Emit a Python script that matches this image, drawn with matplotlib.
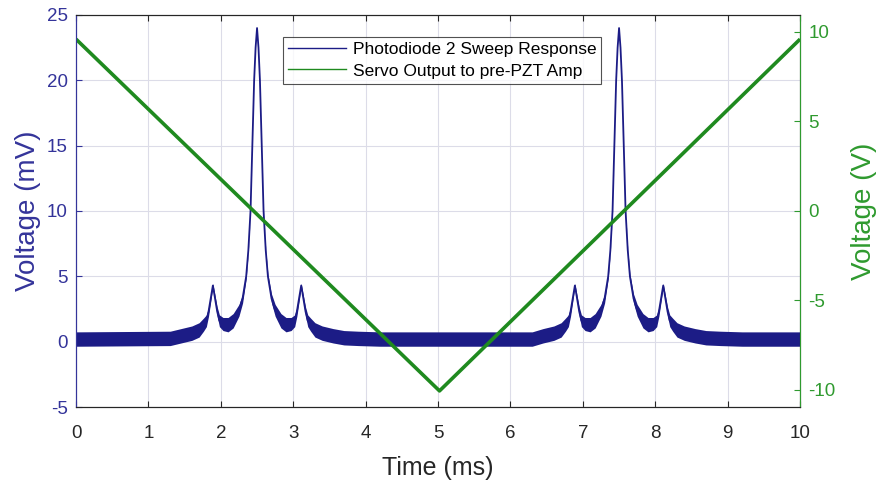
import matplotlib
matplotlib.use('Agg')
import matplotlib.pyplot as plt
from matplotlib.lines import Line2D

plt.rcParams['font.family'] = ['Liberation Sans', 'DejaVu Sans']
plt.rcParams['axes.unicode_minus'] = False

# photodiode trace (mV): centre of the noisy trace and half-width of the noise band
pd_t = [0.00, 1.30, 1.45, 1.60, 1.70, 1.76, 1.80, 1.83, 1.86, 1.89, 1.92, 1.95, 1.98,
        2.03, 2.10, 2.17, 2.25, 2.30, 2.35, 2.38, 2.41, 2.435, 2.46, 2.48, 2.50,
        2.52, 2.54, 2.565, 2.59, 2.62, 2.65, 2.70, 2.75, 2.83, 2.90, 2.97, 3.02, 3.05,
        3.08, 3.11, 3.14, 3.17, 3.20, 3.24, 3.30, 3.40, 3.55, 3.70, 3.90, 4.20,
        6.30, 6.45, 6.60, 6.70, 6.76, 6.80, 6.83, 6.86, 6.89, 6.92, 6.95, 6.98,
        7.03, 7.10, 7.17, 7.25, 7.30, 7.35, 7.38, 7.41, 7.435, 7.46, 7.48, 7.50,
        7.52, 7.54, 7.565, 7.59, 7.62, 7.65, 7.70, 7.75, 7.83, 7.90, 7.97, 8.02, 8.05,
        8.08, 8.11, 8.14, 8.17, 8.20, 8.24, 8.30, 8.40, 8.55, 8.70, 8.90, 9.20, 10.00]
pd_mid = [0.20, 0.25, 0.45, 0.65, 0.90, 1.30, 1.60, 2.30, 3.30, 4.30, 3.30, 2.30, 1.60,
          1.35, 1.30, 1.60, 2.40, 3.30, 5.00, 7.00, 10.0, 15.0, 20.0, 22.5, 24.0,
          22.5, 20.0, 15.0, 10.0, 7.00, 5.00, 3.30, 2.40, 1.60, 1.30, 1.35, 1.60, 2.30,
          3.30, 4.30, 3.30, 2.30, 1.60, 1.30, 0.90, 0.65, 0.45, 0.30, 0.25, 0.20,
          0.20, 0.45, 0.65, 0.90, 1.30, 1.60, 2.30, 3.30, 4.30, 3.30, 2.30, 1.60,
          1.35, 1.30, 1.60, 2.40, 3.30, 5.00, 7.00, 10.0, 15.0, 20.0, 22.5, 24.0,
          22.5, 20.0, 15.0, 10.0, 7.00, 5.00, 3.30, 2.40, 1.60, 1.30, 1.35, 1.60, 2.30,
          3.30, 4.30, 3.30, 2.30, 1.60, 1.30, 0.90, 0.65, 0.45, 0.30, 0.25, 0.20, 0.20]
pd_noise = [0.55, 0.55, 0.55, 0.55, 0.55, 0.50, 0.45, 0.35, 0.25, 0.15, 0.25, 0.35, 0.45,
            0.50, 0.55, 0.55, 0.45, 0.35, 0.20, 0.10, 0.05, 0.00, 0.00, 0.00, 0.00,
            0.00, 0.00, 0.00, 0.05, 0.10, 0.20, 0.35, 0.45, 0.55, 0.55, 0.50, 0.45, 0.35,
            0.25, 0.15, 0.25, 0.35, 0.45, 0.50, 0.55, 0.55, 0.55, 0.55, 0.55, 0.55,
            0.55, 0.55, 0.55, 0.55, 0.50, 0.45, 0.35, 0.25, 0.15, 0.25, 0.35, 0.45,
            0.50, 0.55, 0.55, 0.45, 0.35, 0.20, 0.10, 0.05, 0.00, 0.00, 0.00, 0.00,
            0.00, 0.00, 0.00, 0.05, 0.10, 0.20, 0.35, 0.45, 0.55, 0.55, 0.50, 0.45, 0.35,
            0.25, 0.15, 0.25, 0.35, 0.45, 0.50, 0.55, 0.55, 0.55, 0.55, 0.55, 0.55, 0.55]

# servo output ramp (V)
servo_t = [0.0, 5.02, 10.0]
servo_v = [9.6, -10.05, 9.6]

labels = ['Photodiode 2 Sweep Response', 'Servo Output to pre-PZT Amp']

blue = '#1c1c86'
blue_ax = '#34349a'
green = '#1f8a1f'
green_ax = '#2f9a2f'
grid_c = '#dcdce8'
dark = '#262626'

fig = plt.figure(figsize=(8.79, 4.82), dpi=100)
ax = fig.add_axes([0.0865, 0.1556, 0.8237, 0.8133])
ax2 = ax.twinx()

lo = [m - n for m, n in zip(pd_mid, pd_noise)]
hi = [m + n for m, n in zip(pd_mid, pd_noise)]
ax.fill_between(pd_t, lo, hi, color=blue, lw=0)
ax.plot(pd_t, pd_mid, color=blue, lw=1.3)

ax2.plot(servo_t, servo_v, color=green, lw=2.6, solid_capstyle='butt')

ax.set_xlim(0, 10)
ax.set_ylim(-5, 25)
ax2.set_ylim(-10.95, 10.95)
ax.set_xticks(range(0, 11))
ax.set_yticks(range(-5, 26, 5))
ax2.set_yticks([-10, -5, 0, 5, 10])

ax.grid(True, color=grid_c, lw=0.8)
ax.set_axisbelow(True)

ax.tick_params(axis='x', direction='in', top=True, length=4, labelsize=13.5,
               colors=dark, pad=13)
ax.tick_params(axis='y', direction='in', length=4, labelsize=13.5, colors=blue_ax, pad=6)
ax2.tick_params(axis='y', direction='in', length=4, labelsize=13.5, colors=green_ax, pad=6)

ax.spines['left'].set_color(blue_ax)
ax.spines['bottom'].set_color(dark)
ax.spines['top'].set_color(dark)
ax2.spines['left'].set_color(blue_ax)
ax2.spines['right'].set_color(green_ax)
ax2.spines['top'].set_color(dark)
ax2.spines['bottom'].set_color(dark)

ax.set_xlabel('Time (ms)', fontsize=18, color=dark, labelpad=10)
ax.set_ylabel('Voltage (mV)', fontsize=20, color=blue_ax, labelpad=4)
ax2.set_ylabel('Voltage (V)', fontsize=20, color=green_ax, labelpad=11)

handles = [Line2D([], [], color=blue, lw=1.0), Line2D([], [], color=green, lw=1.0)]
leg = ax2.legend(handles, labels, loc='upper left', bbox_to_anchor=(0.286, 0.944),
                 fontsize=12.5, frameon=True, fancybox=False, edgecolor=dark,
                 handlelength=3.3, handletextpad=0.4, borderpad=0.3, labelspacing=0.35,
                 borderaxespad=0)
leg.get_frame().set_linewidth(0.8)

fig.savefig('out.png', dpi=100)
